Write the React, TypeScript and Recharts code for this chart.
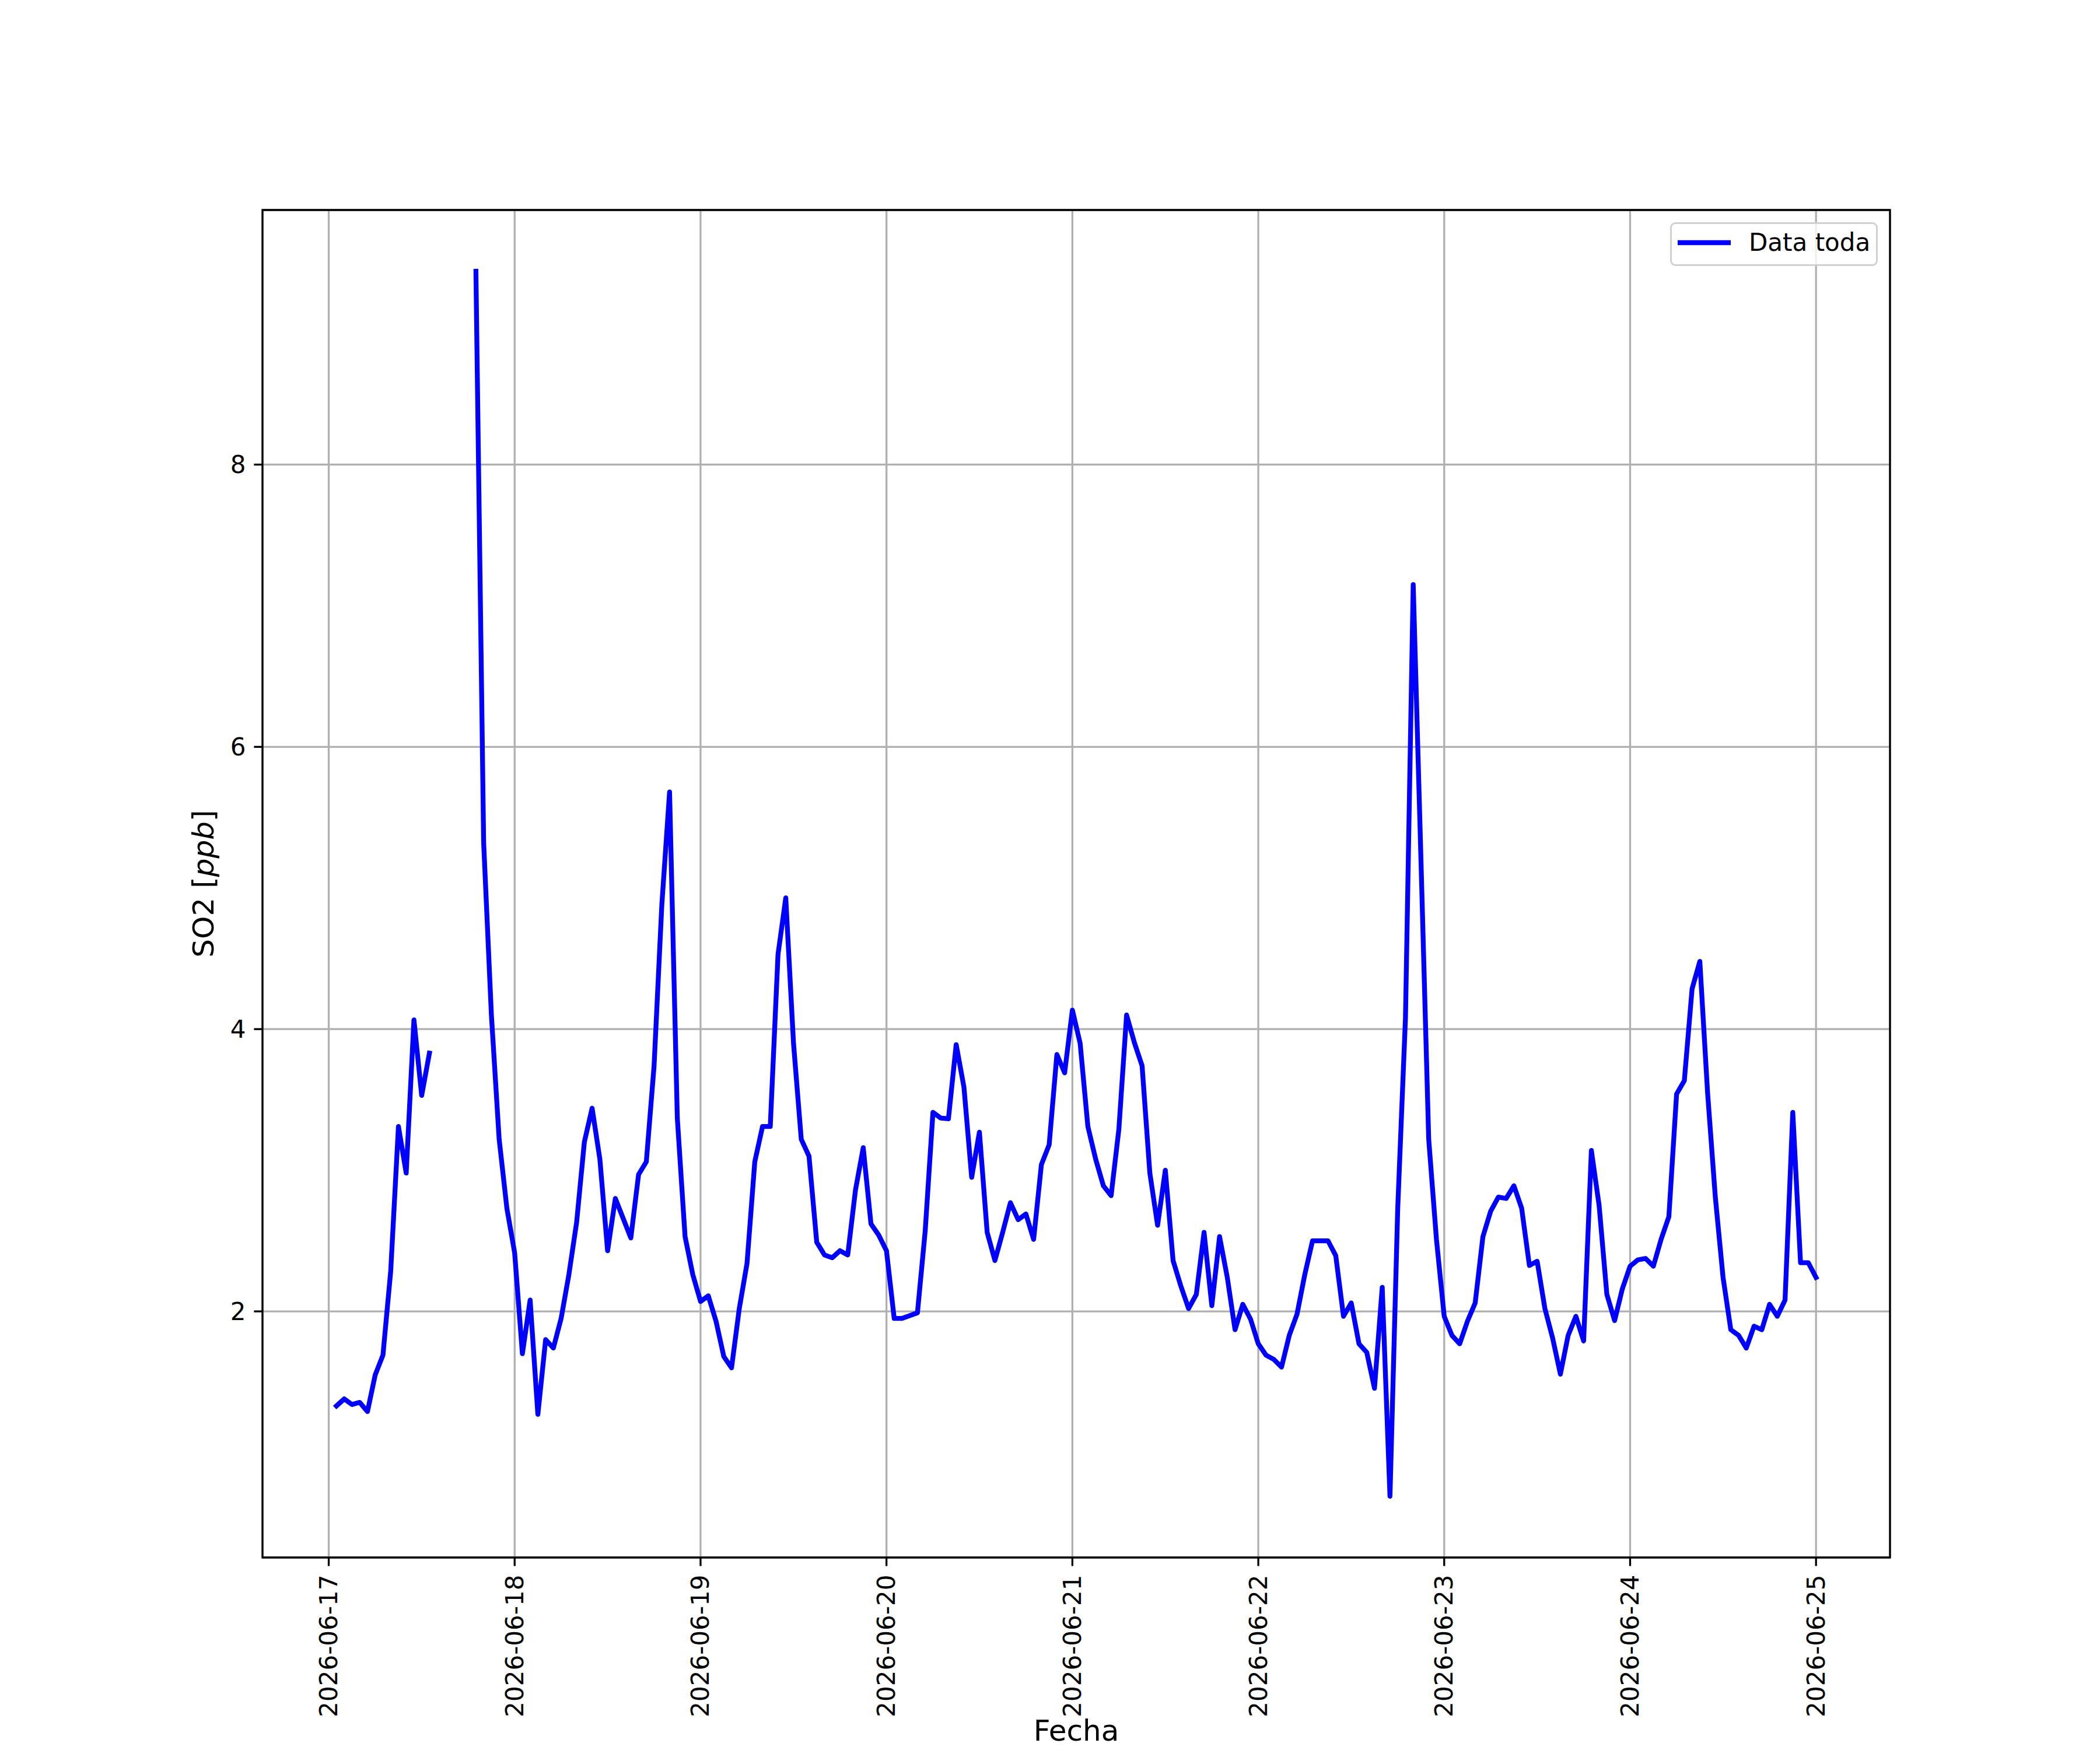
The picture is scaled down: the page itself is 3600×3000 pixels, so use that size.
import React from 'react'
import {
  LineChart,
  Line,
  XAxis,
  YAxis,
  CartesianGrid,
  Legend,
  ReferenceArea,
} from 'recharts'

const FONT = '"DejaVu Sans", Verdana, sans-serif'

// hourly SO2 (ppb), one array per day, hours 01:00 .. 24:00; null = missing
const jun17 = [
  1.33, 1.38, 1.34, 1.355, 1.29, 1.55, 1.69, 2.285, 3.31, 2.98, 4.065, 3.53,
  3.83, null, null, null, null, null, 9.37, 5.32, 4.1, 3.22, 2.73, 2.415,
]
const jun18 = [
  1.7, 2.08, 1.27, 1.8, 1.74, 1.95, 2.26, 2.63, 3.2, 3.44, 3.08, 2.43,
  2.8, 2.66, 2.52, 2.97, 3.06, 3.74, 4.88, 5.68, 3.37, 2.53, 2.26, 2.07,
]
const jun19 = [
  2.11, 1.93, 1.68, 1.6, 2.02, 2.34, 3.06, 3.31, 3.31, 4.53, 4.93, 3.9,
  3.22, 3.1, 2.49, 2.4, 2.38, 2.43, 2.4, 2.86, 3.16, 2.62, 2.54, 2.43,
]
const jun20 = [
  1.95, 1.95, 1.97, 1.99, 2.57, 3.41, 3.37, 3.365, 3.89, 3.59, 2.95, 3.27,
  2.56, 2.36, 2.56, 2.77, 2.65, 2.69, 2.51, 3.04, 3.18, 3.82, 3.69, 4.135,
]
const jun21 = [
  3.9, 3.31, 3.08, 2.89, 2.82, 3.29, 4.1, 3.905, 3.74, 2.98, 2.61, 3.0,
  2.36, 2.18, 2.02, 2.12, 2.56, 2.04, 2.53, 2.24, 1.87, 2.05, 1.945, 1.77,
]
const jun22 = [
  1.69, 1.66, 1.605, 1.83, 1.98, 2.26, 2.5, 2.5, 2.5, 2.395, 1.965, 2.06,
  1.77, 1.71, 1.455, 2.17, 0.69, 2.73, 4.08, 7.15, 5.2, 3.22, 2.51, 1.965,
]
const jun23 = [
  1.83, 1.77, 1.93, 2.06, 2.53, 2.71, 2.81, 2.8, 2.89, 2.73, 2.325, 2.355,
  2.02, 1.81, 1.555, 1.83, 1.965, 1.79, 3.14, 2.75, 2.12, 1.935, 2.16, 2.32,
]
const jun24 = [
  2.365, 2.375, 2.32, 2.51, 2.67, 3.54, 3.635, 4.285, 4.48, 3.55, 2.81, 2.24,
  1.87, 1.83, 1.74, 1.895, 1.87, 2.05, 1.965, 2.08, 3.41, 2.345, 2.345, 2.24,
]

const dayTicks = [0, 24, 48, 72, 96, 120, 144, 168, 192]
const dayLabels = [
  '2026-06-17', '2026-06-18', '2026-06-19', '2026-06-20', '2026-06-21',
  '2026-06-22', '2026-06-23', '2026-06-24', '2026-06-25',
]
const yTicks = [2, 4, 6, 8]

const so2: (number | null)[] = [
  ...jun17, ...jun18, ...jun19, ...jun20, ...jun21, ...jun22, ...jun23, ...jun24,
]
const data = so2.map((v, i) => ({ hour: i + 1, so2: v }))

// matplotlib-style 5% autoscale margins
const vals = so2.filter((v) => v !== null) as number[]
const yLo = Math.min(...vals)
const yHi = Math.max(...vals)
const xLo = data[0].hour
const xHi = data[data.length - 1].hour
const xPad = (xHi - xLo) * 0.05
const yPad = (yHi - yLo) * 0.05
const xDomain: [number, number] = [xLo - xPad, xHi + xPad]
const yDomain: [number, number] = [yLo - yPad, yHi + yPad]

const LW = 3.3

function DateTick({ x, y, payload }: any) {
  const label = dayLabels[dayTicks.indexOf(payload.value)]
  return (
    <text
      x={x}
      y={y}
      transform={`rotate(-90 ${x} ${y})`}
      textAnchor="end"
      dominantBaseline="central"
      fontSize={42}
      fontFamily={FONT}
      fill="#000"
    >
      {label}
    </text>
  )
}

function YLabel({ viewBox }: any) {
  const cx = viewBox.x + 49
  const cy = viewBox.y + viewBox.height / 2
  return (
    <text
      x={cx}
      y={cy}
      transform={`rotate(-90 ${cx} ${cy})`}
      textAnchor="middle"
      dominantBaseline="central"
      fontSize={50}
      fontFamily={FONT}
      fill="#000"
    >
      SO2 [<tspan fontStyle="italic">ppb</tspan>]
    </text>
  )
}

function XLabel({ viewBox }: any) {
  return (
    <text
      x={viewBox.x + viewBox.width / 2}
      y={viewBox.y + 314}
      textAnchor="middle"
      fontSize={50}
      fontFamily={FONT}
      fill="#000"
    >
      Fecha
    </text>
  )
}

function LegendBox() {
  return (
    <div
      style={{
        boxSizing: 'border-box',
        width: 356,
        height: 75,
        border: `${LW}px solid #d0d0d0`,
        borderRadius: 9,
        background: 'rgba(255,255,255,0.8)',
        position: 'relative',
        fontFamily: FONT,
        fontSize: 42,
        color: '#000',
      }}
    >
      <svg width={120} height={70} style={{ position: 'absolute', left: 0, top: 0 }}>
        <line x1={10} x2={101} y1={32} y2={32} stroke="#0000ff" strokeWidth={8.3} />
      </svg>
      <span style={{ position: 'absolute', left: 132, top: 6, lineHeight: '52px', whiteSpace: 'nowrap' }}>
        Data toda
      </span>
    </div>
  )
}

export default function App() {
  return (
    <div style={{ position: 'absolute', left: 0, top: 0, width: 3600, height: 3000, background: '#fff' }}>
      <LineChart
        width={3600}
        height={3000}
        data={data}
        margin={{ top: 360, right: 360, bottom: 30, left: 300 }}
      >
        <CartesianGrid stroke="#b0b0b0" strokeWidth={LW} />
        <XAxis
          dataKey="hour"
          type="number"
          domain={xDomain}
          ticks={dayTicks}
          interval={0}
          height={300}
          axisLine={false}
          tickSize={14.6}
          tickMargin={15}
          tickLine={{ stroke: '#000', strokeWidth: LW }}
          tick={<DateTick />}
          label={<XLabel />}
        />
        <YAxis
          type="number"
          domain={yDomain}
          ticks={yTicks}
          interval={0}
          width={150}
          axisLine={false}
          tickSize={14.6}
          tickMargin={14}
          tickLine={{ stroke: '#000', strokeWidth: LW }}
          tick={{ fontSize: 42, fill: '#000', fontFamily: FONT }}
          label={<YLabel />}
        />
        <ReferenceArea
          x1={xDomain[0]}
          x2={xDomain[1]}
          y1={yDomain[0]}
          y2={yDomain[1]}
          fill="none"
          fillOpacity={0}
          stroke="#000"
          strokeWidth={LW}
        />
        <Line
          type="linear"
          dataKey="so2"
          name="Data toda"
          stroke="#0000ff"
          strokeWidth={8.3}
          strokeLinejoin="round"
          strokeLinecap="square"
          dot={false}
          activeDot={false}
          connectNulls={false}
          isAnimationActive={false}
        />
        <Legend
          layout="horizontal"
          verticalAlign="middle"
          align="center"
          width={356}
          height={75}
          wrapperStyle={{ left: 2863, top: 381, width: 356, height: 75 }}
          content={<LegendBox />}
        />
      </LineChart>
    </div>
  )
}
